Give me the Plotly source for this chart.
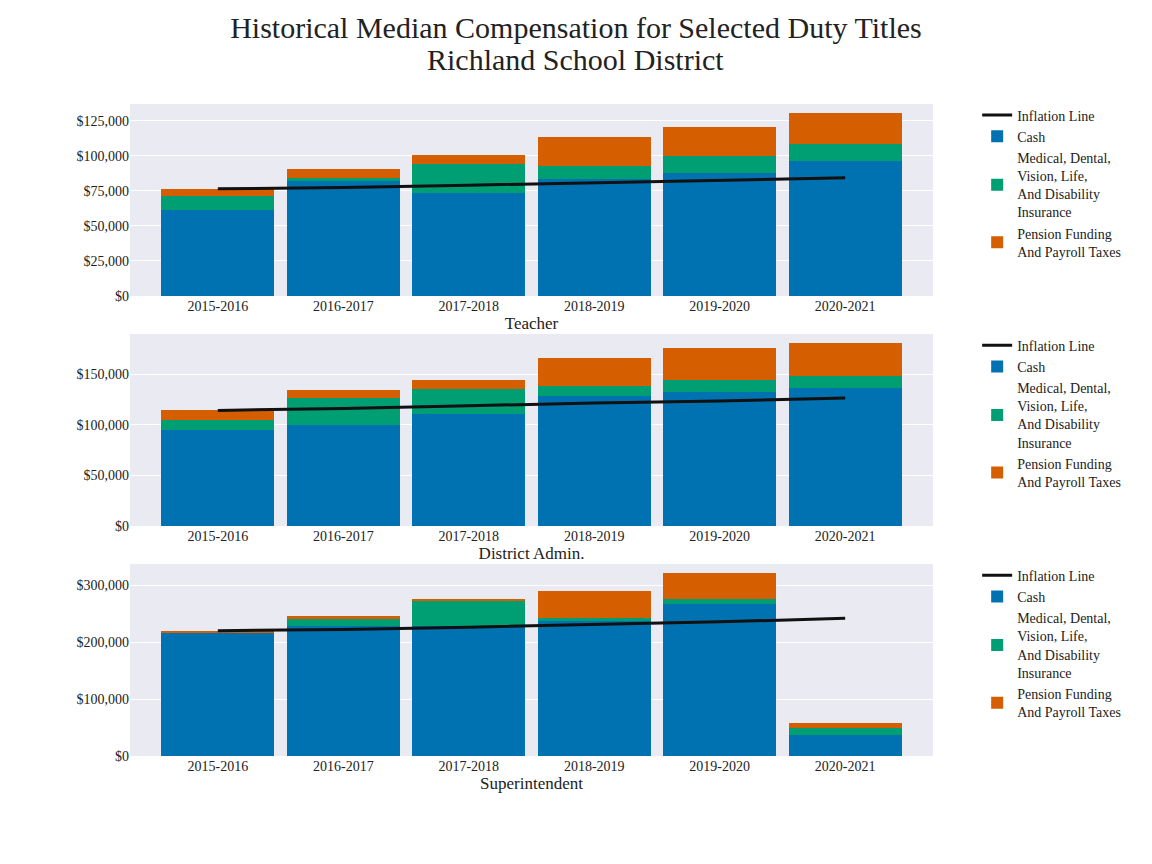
import plotly.graph_objects as go
from plotly.subplots import make_subplots

years = ["2015-2016", "2016-2017", "2017-2018", "2018-2019", "2019-2020", "2020-2021"]
titles = ["Teacher", "District Admin.", "Superintendent"]

# values in dollars
teacher_cash = [61300, 82700, 73400, 83400, 87700, 96300]
teacher_medical = [10000, 1400, 21000, 9300, 12100, 12300]
teacher_pension = [4800, 6500, 6100, 20700, 20700, 21900]
teacher_inflation = [76500, 77400, 79100, 81000, 82400, 84300]

admin_cash = [95000, 99900, 110800, 128600, 132500, 136500]
admin_medical = [9800, 27000, 24700, 9900, 12200, 12200]
admin_pension = [9900, 7600, 8900, 27700, 31400, 32300]
admin_inflation = [114400, 116300, 119000, 121700, 123600, 126600]

super_cash = [216200, 227900, 229000, 237300, 267200, 36900]
super_medical = [500, 12300, 42900, 5300, 8200, 12900]
super_pension = [3000, 5900, 4100, 47400, 46300, 8200]
super_inflation = [220300, 222300, 226500, 231000, 235800, 242000]

groups = [
    (teacher_cash, teacher_medical, teacher_pension, teacher_inflation),
    (admin_cash, admin_medical, admin_pension, admin_inflation),
    (super_cash, super_medical, super_pension, super_inflation),
]

names = ["Cash", "Medical, Dental,<br>Vision, Life,<br>And Disability<br>Insurance",
         "Pension Funding<br>And Payroll Taxes"]
colors = ["#0072B2", "#009E73", "#D55E00"]
yranges = [[0, 137000], [0, 190000], [0, 337500]]
dticks = [25000, 50000, 100000]

serif = "Liberation Serif, Times New Roman, serif"

fig = make_subplots(rows=3, cols=1, vertical_spacing=0.0583)

for i, (cash, med, pen, infl) in enumerate(groups):
    row = i + 1
    leg = "legend" if i == 0 else f"legend{row}"
    fig.add_trace(go.Scatter(x=years, y=infl, mode="lines", name="Inflation Line",
                             line=dict(color="#111111", width=3), legend=leg), row=row, col=1)
    for vals, name, col in zip([cash, med, pen], names, colors):
        fig.add_trace(go.Bar(x=years, y=vals, name=name, marker=dict(color=col, line=dict(width=0)),
                             legend=leg), row=row, col=1)
    fig.update_xaxes(title_text=titles[i], range=[-0.7, 5.7], showgrid=False, ticks="",
                     title_standoff=4, row=row, col=1)
    fig.update_yaxes(range=yranges[i], dtick=dticks[i], tickprefix="$", tickformat=",.0f",
                     gridcolor="white", zeroline=False, row=row, col=1)

legend_style = dict(x=1.055, xanchor="left", yanchor="top", traceorder="normal",
                    bgcolor="rgba(0,0,0,0)", tracegroupgap=4,
                    font=dict(size=14, family=serif, color="#222222"))

fig.update_layout(
    width=1152, height=864,
    barmode="stack", bargap=0.1,
    paper_bgcolor="white", plot_bgcolor="#EAEAF2",
    font=dict(family=serif, size=14, color="#222222"),
    title=dict(text="Historical Median Compensation for Selected Duty Titles",
               x=0.493, xref="container", y=0.977, yanchor="middle", font=dict(size=30)),
    margin=dict(l=122, r=227, t=96, b=116),
    legend=dict(y=1.007, **legend_style),
    legend2=dict(y=0.654, **legend_style),
    legend3=dict(y=0.301, **legend_style),
)

# second title line, placed closer than the default line height
fig.add_annotation(text="Richland School District", xref="paper", yref="paper",
                   x=0.5554, y=1.069, xanchor="center", yanchor="middle", showarrow=False,
                   font=dict(size=30, family=serif, color="#222222"))

fig.write_html("out.html")
